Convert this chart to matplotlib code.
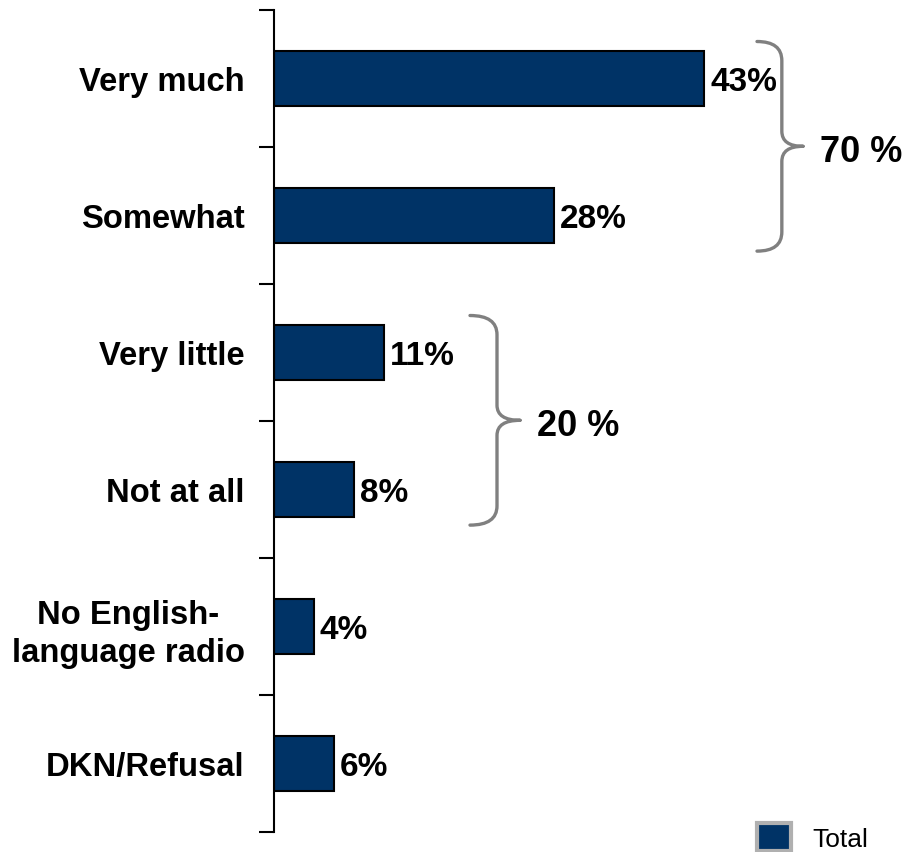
import numpy as np
import matplotlib.pyplot as plt
from matplotlib.path import Path
from matplotlib.patches import PathPatch, Patch

plt.rcParams['font.family'] = ['Liberation Sans', 'DejaVu Sans']

categories = ["Very much", "Somewhat", "Very little", "Not at all",
              "No English-\nlanguage radio", "DKN/Refusal"]
values = [43, 28, 11, 8, 4, 6]
# grouped totals: (first index, last index, label, brace left x, brace tip x)
groups = [(0, 1, "70 %", 48.3, 52.9), (2, 3, "20 %", 19.6, 24.6)]
legend_label = "Total"

navy = "#003366"
brace_grey = "#808080"


def draw_brace(ax, x0, x1, y0, y1):
    xm = x0 + (x1 - x0) * 0.54
    ym = (y0 + y1) / 2
    ry = 0.14
    ryt = 0.11
    verts = [(x0, y0), (xm, y0), (xm, y0 + ry),
             (xm, ym - ryt), (xm, ym), (x1, ym),
             (x1, ym), (xm, ym), (xm, ym + ryt),
             (xm, y1 - ry), (xm, y1), (x0, y1)]
    codes = [Path.MOVETO, Path.CURVE3, Path.CURVE3,
             Path.LINETO, Path.CURVE3, Path.CURVE3,
             Path.MOVETO, Path.CURVE3, Path.CURVE3,
             Path.LINETO, Path.CURVE3, Path.CURVE3]
    ax.add_patch(PathPatch(Path(verts, codes), facecolor='none',
                           edgecolor=brace_grey, lw=2.4, capstyle='round',
                           clip_on=False))


fig = plt.figure(figsize=(9.05, 8.53), dpi=100)
ax = fig.add_axes([274 / 905, 20 / 853, 600 / 905, 822 / 853])

y = np.arange(len(categories))
ax.barh(y, values, height=0.4, color=navy, edgecolor='black', linewidth=1.5)

for i, v in enumerate(values):
    ax.text(v + 0.6, i + 0.02, f"{v}%", va='center', ha='left',
            fontsize=24, fontweight='bold')

for first, last, label, bx0, bx1 in groups:
    draw_brace(ax, bx0, bx1, first - 0.27, last + 0.26)
    ax.text(bx1 + 1.7, (first + last) / 2 + 0.03, label, va='center',
            ha='left', fontsize=26, fontweight='bold')

ax.set_xlim(0, 60)
ax.set_ylim(len(categories) - 0.5, -0.5)

for s in ['top', 'right', 'bottom']:
    ax.spines[s].set_visible(False)
ax.spines['left'].set_linewidth(1.5)
ax.set_xticks([])

ax.set_yticks(y)
ax.set_yticklabels(categories, fontsize=23.6, fontweight='bold',
                   linespacing=1.3, multialignment='center')
ax.tick_params(axis='y', which='major', length=0, pad=21)
ax.set_yticks(np.arange(len(categories) + 1) - 0.5, minor=True)
ax.tick_params(axis='y', which='minor', length=11, width=1.5, direction='out')

handle = Patch(facecolor=navy, edgecolor='#b0b0b0', linewidth=3)
fig.legend([handle], [legend_label], loc='center left',
           bbox_to_anchor=(757 / 905, 15 / 853), frameon=False,
           fontsize=19, handlelength=1.3, handleheight=1.3,
           borderpad=0, borderaxespad=0, handletextpad=0.8)

fig.savefig("out.png", dpi=100)
